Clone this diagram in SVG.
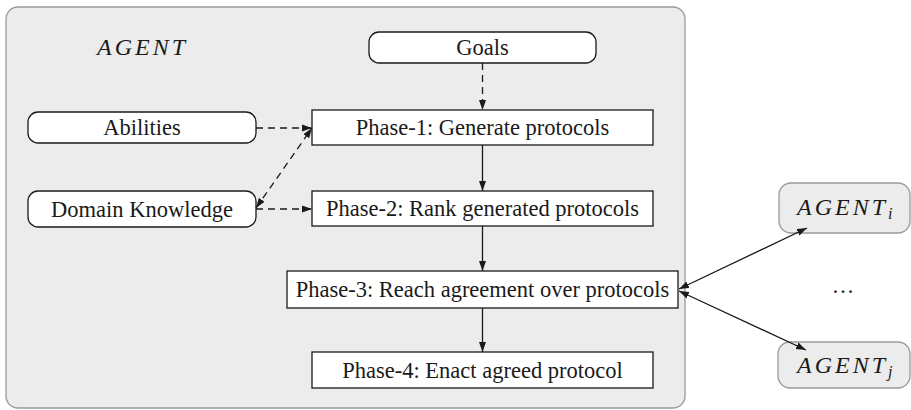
<svg xmlns="http://www.w3.org/2000/svg" width="911" height="410" viewBox="0 0 911 410">
<style>
.t{font-family:"Liberation Serif","Times New Roman",serif;font-size:22.5px;fill:#1a1a1a;text-anchor:middle}
.m{font-family:"Liberation Serif","Times New Roman",serif;font-style:italic;font-size:24px;fill:#1a1a1a;letter-spacing:3px}
.box{fill:#fff;stroke:#1a1a1a;stroke-width:1.3}
.grey{fill:#ececec;stroke:#9a9a9a;stroke-width:1.3}
.c{stroke:#1a1a1a;stroke-width:1.3;fill:none}
.d{stroke-dasharray:7,5}
</style>
<defs>
<marker id="ah" markerWidth="10" markerHeight="8" refX="10" refY="4" orient="auto-start-reverse" markerUnits="userSpaceOnUse">
<path d="M0,0.5 L10,4 L0,7.5 z" fill="#1a1a1a"/>
</marker>
</defs>
<g id="agent">
<rect class="grey" x="6" y="7" width="679" height="401" rx="12"/>
<text class="m" x="97" y="55">AGENT</text>
</g>
<g id="goals"><rect class="box" x="369" y="32" width="227" height="31" rx="10"/><text class="t" x="482.5" y="55">Goals</text></g>
<g id="abilities"><rect class="box" x="28" y="112" width="228" height="31" rx="10"/><text class="t" x="142" y="135">Abilities</text></g>
<g id="domain"><rect class="box" x="28" y="191" width="228" height="36" rx="10"/><text class="t" x="142" y="216.5">Domain Knowledge</text></g>
<g id="phase1"><rect class="box" x="312" y="110" width="341" height="35"/><text class="t" x="482.5" y="135">Phase-1: Generate protocols</text></g>
<g id="phase2"><rect class="box" x="312" y="191" width="341" height="35"/><text class="t" x="482.5" y="216">Phase-2: Rank generated protocols</text></g>
<g id="phase3"><rect class="box" x="287" y="271" width="391" height="37"/><text class="t" x="482.5" y="297">Phase-3: Reach agreement over protocols</text></g>
<g id="phase4"><rect class="box" x="312" y="352" width="341" height="36"/><text class="t" x="482.5" y="377.5">Phase-4: Enact agreed protocol</text></g>
<g id="agenti"><rect class="grey" x="779" y="183" width="131" height="50" rx="12"/><text class="m" x="797" y="215">AGENT<tspan font-size="16" dy="4" letter-spacing="0">i</tspan></text></g>
<g id="dots"><text class="t" x="843" y="293">…</text></g>
<g id="agentj"><rect class="grey" x="778" y="342" width="132" height="46" rx="12"/><text class="m" x="797" y="373">AGENT<tspan font-size="16" dy="4" letter-spacing="0">j</tspan></text></g>
<g id="connectors">
<line class="c d" x1="482.5" y1="63" x2="482.5" y2="110" marker-end="url(#ah)"/>
<line class="c d" x1="256" y1="128" x2="312" y2="128" marker-end="url(#ah)"/>
<line class="c d" x1="256" y1="209" x2="312" y2="209" marker-end="url(#ah)"/>
<line class="c d" x1="256" y1="208" x2="312" y2="128" marker-start="url(#ah)" marker-end="url(#ah)"/>
<line class="c" x1="482.5" y1="145" x2="482.5" y2="191" marker-end="url(#ah)"/>
<line class="c" x1="482.5" y1="226" x2="482.5" y2="271" marker-end="url(#ah)"/>
<line class="c" x1="482.5" y1="308" x2="482.5" y2="352" marker-end="url(#ah)"/>
<line class="c" x1="679" y1="289" x2="807" y2="228" marker-start="url(#ah)" marker-end="url(#ah)"/>
<line class="c" x1="679" y1="291" x2="806" y2="350" marker-start="url(#ah)" marker-end="url(#ah)"/>
</g>
</svg>
